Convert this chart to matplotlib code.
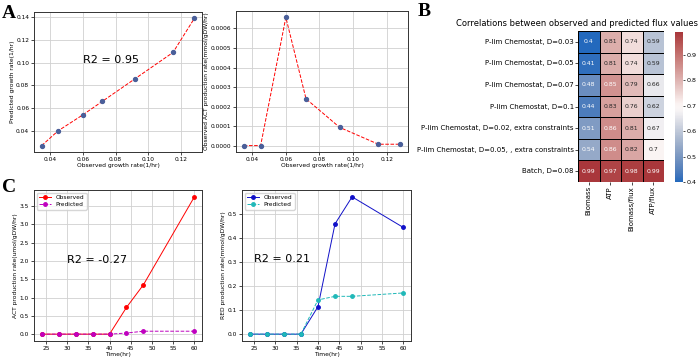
import numpy as np
import pandas as pd
import matplotlib
matplotlib.use("Agg")
import matplotlib.pyplot as plt
import seaborn as sns

# ==============================
# DATA
# ==============================

obs_growth = [0.035, 0.045, 0.060, 0.072, 0.092, 0.115, 0.128]
pred_growth = [0.027, 0.040, 0.054, 0.066, 0.086, 0.109, 0.139]
obs_act_chemostat = [0.000001, 0.000001, 0.000656, 0.000240, 0.000094, 0.000008, 0.000008]

time_hr = [24, 28, 32, 36, 40, 44, 48, 60]
act_observed = [0, 0, 0, 0, 0, 0.73, 1.35, 3.75]
act_predicted = [0, 0, 0, 0, 0, 0.03, 0.08, 0.08]
red_observed = [0, 0, 0, 0, 0.114, 0.458, 0.57, 0.443]
red_predicted = [0, 0, 0, 0, 0.142, 0.157, 0.157, 0.171]

conditions = [
    "P-lim Chemostat, D=0.03",
    "P-lim Chemostat, D=0.05",
    "P-lim Chemostat, D=0.07",
    "P-lim Chemostat, D=0.1",
    "P-lim Chemostat, D=0.02, extra constraints",
    "P-lim Chemostat, D=0.05, , extra constraints",
    "Batch, D=0.08",
]
metrics = ["Biomass", "ATP", "Biomass/flux", "ATP/flux"]
corr_values = [
    [0.40, 0.81, 0.74, 0.59],
    [0.41, 0.81, 0.74, 0.59],
    [0.48, 0.85, 0.79, 0.66],
    [0.44, 0.83, 0.76, 0.62],
    [0.51, 0.86, 0.81, 0.67],
    [0.54, 0.86, 0.82, 0.70],
    [0.99, 0.97, 0.98, 0.99],
]

# ==============================
# FIGURE
# ==============================

W, H = 700, 358
fig = plt.figure(figsize=(W / 100, H / 100), dpi=100)


def px_axes(x0, y0, x1, y1):
    # pixel box (top-left origin) -> figure axes
    return fig.add_axes([x0 / W, (H - y1) / H, (x1 - x0) / W, (y1 - y0) / H])


def style(ax):
    ax.grid(True, color="#d0d0d0", linewidth=0.6)
    ax.set_axisbelow(True)
    ax.tick_params(labelsize=4.2, length=2, width=0.5, pad=1.5)
    for s in ax.spines.values():
        s.set_linewidth(0.7)
        s.set_color("#333333")


# Panel A left
ax1 = px_axes(34, 12, 202, 152)
ax1.plot(obs_growth, pred_growth, "r--", linewidth=0.7)
ax1.scatter(obs_growth, pred_growth, s=8, color="#4a5f9a", zorder=3)
ax1.text(0.06, 0.1, "R2 = 0.95", fontsize=8)
ax1.set_xticks([0.04, 0.06, 0.08, 0.10, 0.12])
ax1.set_xlabel("Observed growth rate(1/hr)", fontsize=4.3, labelpad=1)
ax1.set_ylabel("Predicted growth rate(1/hr)", fontsize=4.3, labelpad=1)
style(ax1)

# Panel A right
ax2 = px_axes(236, 11, 408, 152)
ax2.plot(obs_growth, obs_act_chemostat, "r--", linewidth=0.7)
ax2.scatter(obs_growth, obs_act_chemostat, s=8, color="#4a5f9a", zorder=3)
ax2.set_xticks([0.04, 0.06, 0.08, 0.10, 0.12])
ax2.set_yticks([0, 0.0001, 0.0002, 0.0003, 0.0004, 0.0005, 0.0006])
ax2.yaxis.set_major_formatter(matplotlib.ticker.FormatStrFormatter("%.4f"))
ax2.set_xlabel("Observed growth rate(1/hr)", fontsize=4.3, labelpad=1)
ax2.set_ylabel("Observed ACT production rate(mmol/gDW/hr)", fontsize=4.3, labelpad=1)
style(ax2)

# Panel C left
ax3 = px_axes(34, 190, 202, 341)
ax3.plot(time_hr, act_observed, "o-", color="red", markersize=2.5, linewidth=0.7, label="Observed")
ax3.plot(time_hr, act_predicted, "o--", color="m", markersize=2.5, linewidth=0.7, label="Predicted")
ax3.text(30, 1.95, "R2 = -0.27", fontsize=8)
ax3.set_xticks([25, 30, 35, 40, 45, 50, 55, 60])
ax3.set_xlabel("Time(hr)", fontsize=4.3, labelpad=1)
ax3.set_ylabel("ACT production rate(umol/gDW/hr)", fontsize=4.3, labelpad=1)
ax3.legend(loc="upper left", fontsize=4.2, handlelength=2, borderpad=0.4, labelspacing=0.3)
style(ax3)

# Panel C right
ax4 = px_axes(242, 190, 411, 341)
ax4.plot(time_hr, red_observed, "o-", color="#1010c8", markersize=2.5, linewidth=0.7, label="Observed")
ax4.plot(time_hr, red_predicted, "o--", color="#20b8b8", markersize=2.5, linewidth=0.7, label="Predicted")
ax4.text(25, 0.3, "R2 = 0.21", fontsize=8)
ax4.set_xticks([25, 30, 35, 40, 45, 50, 55, 60])
ax4.set_xlabel("Time(hr)", fontsize=4.3, labelpad=1)
ax4.set_ylabel("RED production rate(mmol/gDW/hr)", fontsize=4.3, labelpad=1)
ax4.legend(loc="upper left", fontsize=4.2, handlelength=2, borderpad=0.4, labelspacing=0.3)
style(ax4)

# Panel B heatmap
axh = px_axes(578, 31, 664, 182)
cax = px_axes(675, 32, 683, 182)
df = pd.DataFrame(corr_values, index=conditions, columns=metrics)
sns.heatmap(df, ax=axh, cbar_ax=cax, cmap="vlag", vmin=0.4, vmax=0.99,
            annot=True, annot_kws={"size": 4.4}, linewidths=0.5, linecolor="black")
axh.tick_params(labelsize=5, length=2, width=0.5, pad=1)
axh.set_yticklabels(conditions, rotation=0)
axh.set_xticklabels(metrics, rotation=90)
cax.set_yticks([0.4, 0.5, 0.6, 0.7, 0.8, 0.9])
cax.tick_params(labelsize=4.6, length=1.5, width=0.5, pad=0.8)
fig.text(577 / W, 1 - 24 / H, "Correlations between observed and predicted flux values",
         fontsize=6, ha="center", va="center")

# Panel letters
for lab, x, y in [("A", 2, 18), ("B", 418, 16), ("C", 2, 192)]:
    fig.text(x / W, 1 - y / H, lab, fontsize=14, fontweight="bold",
             family="Liberation Serif", ha="left", va="baseline")

fig.savefig("out.png", dpi=100)
